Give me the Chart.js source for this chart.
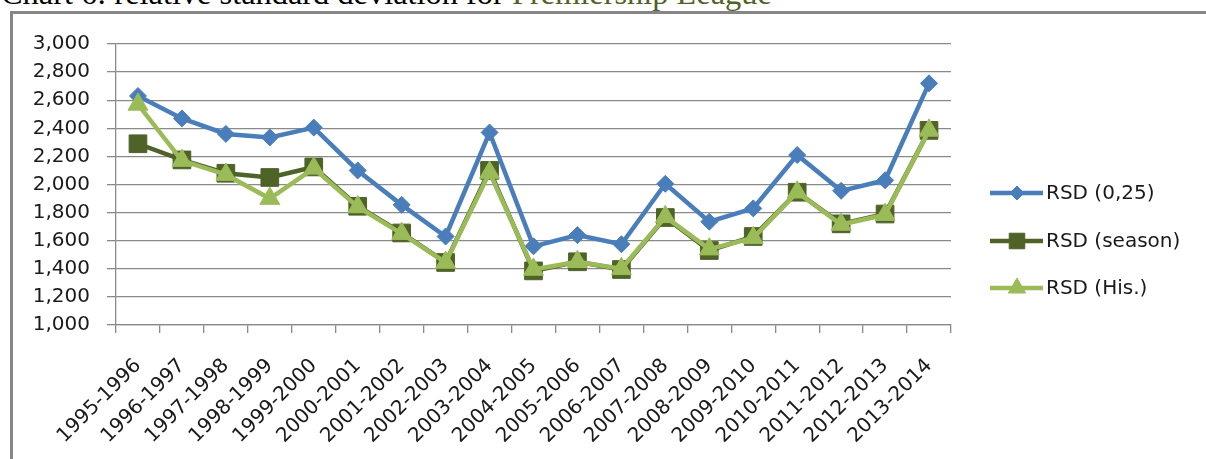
<!DOCTYPE html>
<html><head><meta charset="utf-8">
<script src="https://cdn.jsdelivr.net/npm/chart.js@4.4.1/dist/chart.umd.min.js"></script>
<style>
html,body{margin:0;padding:0;background:#fff;overflow:hidden;width:1206px;height:459px;}
#title{position:absolute;left:1px;top:-23px;font-family:"Liberation Serif";font-size:32.4px;line-height:32px;white-space:nowrap;color:#000;}
#title span{color:#4f6228;}
#frame{position:absolute;left:10px;top:11px;width:1300px;height:600px;border-top:3px solid #868686;border-left:3px solid #868686;}
#wrap{position:absolute;left:0;top:0;width:1206px;height:459px;}
</style></head><body>
<div id="title">Chart 6: relative standard deviation for <span>Premiership League</span></div>
<div id="frame"></div>
<div id="wrap"><canvas id="c" width="1206" height="459"></canvas></div>
<script>
const categories = ["1995-1996","1996-1997","1997-1998","1998-1999","1999-2000","2000-2001","2001-2002","2002-2003","2003-2004","2004-2005","2005-2006","2006-2007","2007-2008","2008-2009","2009-2010","2010-2011","2011-2012","2012-2013","2013-2014"];
const rsd025 = [2630,2470,2360,2335,2405,2100,1855,1630,2370,1560,1640,1575,2005,1735,1830,2210,1955,2030,2720];
const rsdSeason = [2290,2175,2080,2050,2125,1845,1655,1445,2100,1385,1450,1395,1765,1530,1630,1945,1720,1790,2385];
const rsdHis = [2570,2170,2070,1900,2115,1840,1650,1445,2085,1395,1450,1400,1770,1540,1620,1945,1715,1785,2385];
const yTicksMin = 1000, yTicksMax = 3000, yStep = 200;
const seriesNames = ["RSD (0,25)","RSD (season)","RSD (His.)"];

const FONT = {family:"DejaVu Sans", size:20};
const GRID = '#8a8a8a';

const sideLegend = {
  id:'sideLegend',
  afterDraw(chart){
    const ctx = chart.ctx;
    const rows = [193,241,288];
    const sizes = [7,11,10];
    chart.data.datasets.forEach((ds,i)=>{
      const y = rows[i];
      ctx.save();
      ctx.strokeStyle = ds.borderColor;
      ctx.lineWidth = ds.borderWidth;
      ctx.beginPath();
      ctx.moveTo(990,y);ctx.lineTo(1043,y);ctx.stroke();
      ctx.fillStyle = ds.pointBackgroundColor;
      ctx.strokeStyle = ds.pointBorderColor;
      ctx.lineWidth = 1;
      Chart.helpers.drawPoint(ctx,{pointStyle:ds.pointStyle,radius:sizes[i],rotation:0,borderWidth:1},1017,y);
      ctx.fillStyle = '#1a1a1a';
      ctx.font = '20px "DejaVu Sans"';
      ctx.textBaseline = 'middle';
      ctx.textAlign = 'left';
      ctx.fillText(ds.label,1046,y+1);
      ctx.restore();
    });
  }
};

new Chart(document.getElementById('c'),{
  type:'line',
  data:{
    labels:categories,
    datasets:[
      {label:seriesNames[0],data:rsd025,borderColor:'#4a7ebb',backgroundColor:'#4a7ebb',pointBackgroundColor:'#4a7ebb',pointBorderColor:'#4a7ebb',borderWidth:4.5,pointStyle:'rectRot',pointRadius:8.5,pointBorderWidth:1,tension:0,order:3},
      {label:seriesNames[1],data:rsdSeason,borderColor:'#4f6228',backgroundColor:'#4f6228',pointBackgroundColor:'#4f6228',pointBorderColor:'#4f6228',borderWidth:4.5,pointStyle:'rect',pointRadius:12.5,pointBorderWidth:1,tension:0,order:2},
      {label:seriesNames[2],data:rsdHis,borderColor:'#9bbb59',backgroundColor:'#9bbb59',pointBackgroundColor:'#9bbb59',pointBorderColor:'#9bbb59',borderWidth:4.5,pointStyle:'triangle',pointRadius:11.5,pointBorderWidth:1,tension:0,order:1}
    ]
  },
  options:{
    responsive:false,
    animation:false,
    devicePixelRatio:1,
    layout:{padding:{top:44,right:255,left:0,bottom:0}},
    plugins:{legend:{display:false},tooltip:{enabled:false},title:{display:false}},
    scales:{
      x:{
        type:'category',
        offset:true,
        grid:{offset:true,drawOnChartArea:false,drawTicks:true,tickLength:8,color:GRID,lineWidth:1.3},
        border:{display:true,color:GRID,width:1.3},
        ticks:{minRotation:45,maxRotation:45,autoSkip:false,padding:21,font:FONT,color:'#1a1a1a'},
        afterFit(s){s.height = 459-325;}
      },
      y:{
        min:yTicksMin,max:yTicksMax,
        grid:{color:GRID,lineWidth:1.3,tickLength:9},
        border:{display:true,color:GRID,width:1.3},
        ticks:{stepSize:yStep,padding:17,font:FONT,color:'#1a1a1a',callback:v=>v.toLocaleString('en-US')},
        afterFit(s){s.width = 116;}
      }
    }
  },
  plugins:[sideLegend]
});
</script>
</body></html>
